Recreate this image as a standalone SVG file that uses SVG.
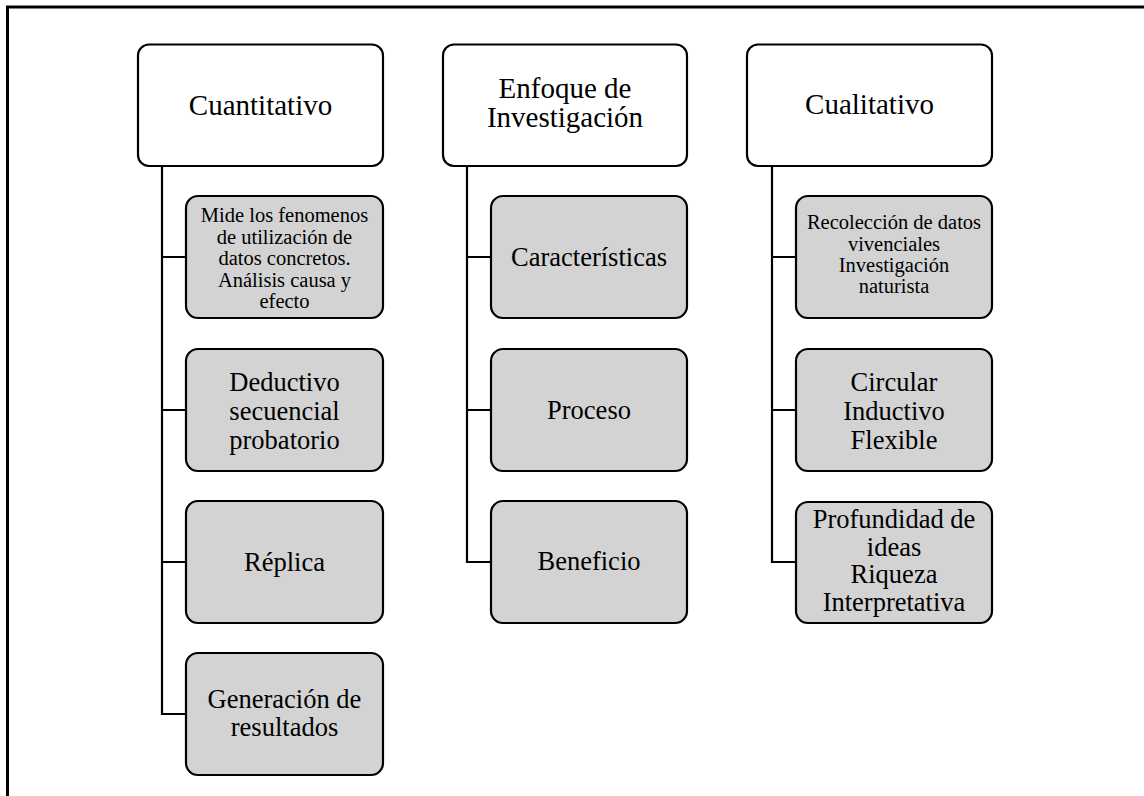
<svg xmlns="http://www.w3.org/2000/svg" width="1144" height="796" viewBox="0 0 1144 796">
<style>
.hdr{fill:#ffffff;stroke:#000;stroke-width:2.2}
.sub{fill:#d3d3d3;stroke:#000;stroke-width:2.2}
.t{font-family:"Liberation Serif","Times New Roman",serif;fill:#000;text-anchor:middle}
.h{font-size:29px}
.m{font-size:26.5px}
.s{font-size:20.5px}
.c{fill:none;stroke:#000;stroke-width:2.2}
</style>
<rect width="1144" height="796" fill="#fff"/>
<path d="M7.5,796 V7 H1144" fill="none" stroke="#000" stroke-width="3"/>
<g id="connectors">
<path class="c" d="M162,166 V714 H186 M162,257 H186 M162,410 H186 M162,562 H186"/>
<path class="c" d="M467,166 V562 H491 M467,257 H491 M467,410 H491"/>
<path class="c" d="M772,166 V562 H796 M772,257 H796 M772,410 H796"/>
</g>
<g id="cuantitativo">
<rect class="hdr" x="138" y="44.5" width="245" height="121.5" rx="11"/>
<text class="t h" x="260.5" y="115">Cuantitativo</text>
</g>
<g id="enfoque">
<rect class="hdr" x="443" y="44.5" width="244" height="121.5" rx="11"/>
<text class="t h" x="565" y="98">Enfoque de</text>
<text class="t h" x="565" y="127">Investigación</text>
</g>
<g id="cualitativo">
<rect class="hdr" x="747" y="44.5" width="245" height="121.5" rx="11"/>
<text class="t h" x="869.5" y="114">Cualitativo</text>
</g>
<g id="mide">
<rect class="sub" x="186" y="196" width="197" height="122" rx="12"/>
<text class="t s" x="284.5" y="222">Mide los fenomenos</text>
<text class="t s" x="284.5" y="243.5">de utilización de</text>
<text class="t s" x="284.5" y="265">datos concretos.</text>
<text class="t s" x="284.5" y="286.5">Análisis causa y</text>
<text class="t s" x="284.5" y="308">efecto</text>
</g>
<g id="deductivo">
<rect class="sub" x="186" y="349" width="197" height="122" rx="12"/>
<text class="t m" x="284.5" y="391">Deductivo</text>
<text class="t m" x="284.5" y="420">secuencial</text>
<text class="t m" x="284.5" y="449">probatorio</text>
</g>
<g id="replica">
<rect class="sub" x="186" y="501" width="197" height="122" rx="12"/>
<text class="t m" x="284.5" y="571">Réplica</text>
</g>
<g id="generacion">
<rect class="sub" x="186" y="653" width="197" height="122" rx="12"/>
<text class="t m" x="284.5" y="708">Generación de</text>
<text class="t m" x="284.5" y="736">resultados</text>
</g>
<g id="caracteristicas">
<rect class="sub" x="491" y="196" width="196" height="122" rx="12"/>
<text class="t m" x="589" y="266">Características</text>
</g>
<g id="proceso">
<rect class="sub" x="491" y="349" width="196" height="122" rx="12"/>
<text class="t m" x="589" y="419">Proceso</text>
</g>
<g id="beneficio">
<rect class="sub" x="491" y="501" width="196" height="122" rx="12"/>
<text class="t m" x="589" y="570">Beneficio</text>
</g>
<g id="recoleccion">
<rect class="sub" x="796" y="196" width="196" height="122" rx="12"/>
<text class="t s" x="894" y="229">Recolección de datos</text>
<text class="t s" x="894" y="250.5">vivenciales</text>
<text class="t s" x="894" y="272">Investigación</text>
<text class="t s" x="894" y="293">naturista</text>
</g>
<g id="circular">
<rect class="sub" x="796" y="349" width="196" height="122" rx="12"/>
<text class="t m" x="894" y="391">Circular</text>
<text class="t m" x="894" y="420">Inductivo</text>
<text class="t m" x="894" y="449">Flexible</text>
</g>
<g id="profundidad">
<rect class="sub" x="796" y="502" width="196" height="121" rx="12"/>
<text class="t m" x="894" y="528">Profundidad de</text>
<text class="t m" x="894" y="555.5">ideas</text>
<text class="t m" x="894" y="583">Riqueza</text>
<text class="t m" x="894" y="610.5">Interpretativa</text>
</g>
</svg>
